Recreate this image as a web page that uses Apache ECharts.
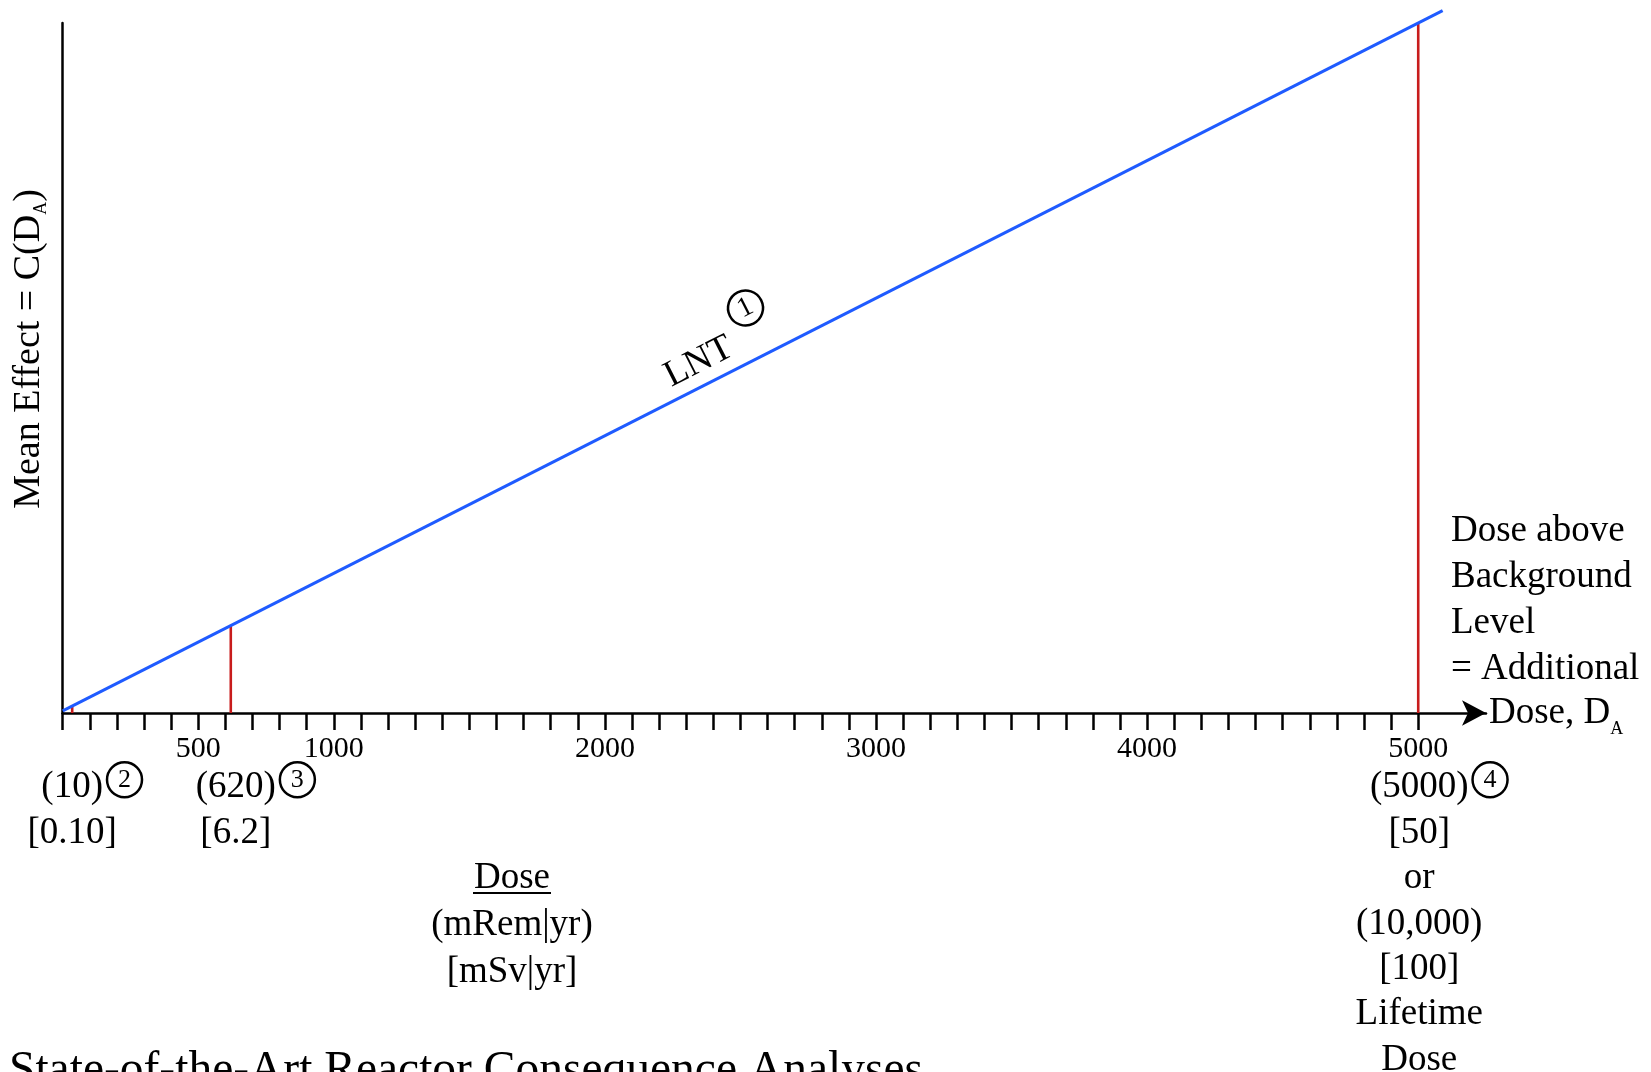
<!DOCTYPE html>
<html>
<head>
<meta charset="utf-8">
<title>LNT dose response</title>
<script src="https://cdn.jsdelivr.net/npm/echarts@6.0.0/dist/echarts.min.js"></script>
<style>
html,body{margin:0;padding:0;background:#fff;}
#chart{width:1651px;height:1072px;}
</style>
</head>
<body>
<div id="chart"></div>
<script>
const FONT = '"Liberation Serif", "DejaVu Serif", serif';

// LNT line: dose (mRem/yr) against effect (arbitrary units)
const lntDose = [0, 5090];
const lntEffect = [0.3, 101.8];

// red marker lines at the doses of interest
const markerDose = [35, 620, 5000];
const markerEffect = [1.0, 12.7, 100];

// x axis
const xMax = 5250;
const tickValues = [];
for (let v = 0; v <= 5000; v += 100) tickValues.push(v);
const tickLabels = [500, 1000, 2000, 3000, 4000, 5000];

// texts under the markers
const markerNotes = [
    ['(10)', '[0.10]'],
    ['(620)', '[6.2]'],
    ['(5000)', '[50]', 'or', '(10,000)', '[100]', 'Lifetime', 'Dose']
];
const markerCircles = ['2', '3', '4'];
const markerShift = [0, 5, 1];

// where the LNT text sits on the line
const lntLabelAt = [2385, 47.9];

const circleSize = 35;
const labelValues = tickLabels.concat(markerDose.filter(d => tickLabels.indexOf(d) < 0)).sort((a, b) => a - b);

const labelRich = {
    n: {fontFamily: FONT, fontSize: 30, lineHeight: 16, color: '#000'},
    t: {fontFamily: FONT, fontSize: 37, lineHeight: 45.4, padding: [16, 0, 0, 0], color: '#000'},
    g: {width: 4, height: 10},
    c: {
        fontFamily: FONT, fontSize: 26, color: '#000',
        width: circleSize, height: circleSize, borderRadius: circleSize / 2,
        borderColor: '#000', borderWidth: 2.5, align: 'center'
    }
};
markerDose.forEach((d, i) => {
    labelRich['lp' + i] = {width: 4 + circleSize + 2 * markerShift[i], height: 10};
    labelRich['lq' + i] = {width: 2 * markerShift[i], height: 10};
});

function labelFormatter(value) {
    const i = markerDose.indexOf(value);
    const top = tickLabels.indexOf(value) >= 0 ? '{n|' + value + '}' : '{n| }';
    if (i < 0) return top;
    const notes = markerNotes[i];
    const lines = [top, '{lp' + i + '|}{t|' + notes[0] + '}{g|}{c|' + markerCircles[i] + '}'];
    for (let k = 1; k < notes.length; k++) {
        lines.push('{lq' + i + '|}{t|' + notes[k] + '}');
    }
    return lines.join('\n');
}

const series = markerDose.map((d, i) => ({
    type: 'line',
    data: [[d, 0], [d, markerEffect[i]]],
    symbol: 'none',
    lineStyle: {color: '#c81c1c', width: 2.6},
    silent: true
}));
series.push({
    type: 'line',
    data: lntDose.map((d, i) => [d, lntEffect[i]]),
    symbol: 'none',
    clip: false,
    lineStyle: {color: '#1f5bff', width: 3},
    z: 5
});

const chart = echarts.init(document.getElementById('chart'));
chart.setOption({
    animation: false,
    backgroundColor: '#fff',
    title: {
        text: 'State-of-the-Art Reactor Consequence Analyses',
        left: 4,
        top: 1043,
        textStyle: {fontFamily: FONT, fontSize: 47.5, fontWeight: 'normal', color: '#000'}
    },
    grid: {left: 62.7, right: 165, top: 23, bottom: 359, containLabel: false, outerBoundsMode: 'none'},
    xAxis: {
        type: 'value',
        min: 0,
        max: xMax,
        name: '{t|Dose, D}{s|A}',
        nameLocation: 'end',
        nameGap: 3,
        nameMoveOverlap: false,
        nameTextStyle: {
            rich: {
                t: {fontFamily: FONT, fontSize: 37, color: '#000'},
                s: {fontFamily: FONT, fontSize: 18, lineHeight: 18, padding: [32, 0, 0, 0], color: '#000'}
            }
        },
        axisLine: {
            show: true,
            symbol: ['none', 'arrow'],
            symbolSize: [19, 24],
            lineStyle: {color: '#000', width: 2.5}
        },
        axisTick: {
            show: true,
            customValues: tickValues,
            length: 17,
            lineStyle: {color: '#000', width: 2.5}
        },
        axisLabel: {
            customValues: labelValues,
            margin: 28,
            color: '#000',
            showMinLabel: true,
            showMaxLabel: true,
            formatter: labelFormatter,
            rich: labelRich
        },
        splitLine: {show: false}
    },
    yAxis: {
        type: 'value',
        min: 0,
        max: 100,
        axisLine: {show: true, lineStyle: {color: '#000', width: 2.5}},
        axisTick: {show: false},
        axisLabel: {show: false},
        splitLine: {show: false}
    },
    series: series
});

// annotations placed from the chart's own scales
const p0 = chart.convertToPixel({gridIndex: 0}, [lntDose[0], lntEffect[0]]);
const p1 = chart.convertToPixel({gridIndex: 0}, [lntDose[1], lntEffect[1]]);
const angle = Math.atan2(p0[1] - p1[1], p1[0] - p0[0]);
const lntAt = chart.convertToPixel({gridIndex: 0}, lntLabelAt);

const textStyle = {fontFamily: FONT, fontSize: 37, fill: '#000'};

chart.setOption({
    graphic: [
        {
            type: 'group',
            x: lntAt[0],
            y: lntAt[1],
            rotation: angle,
            children: [
                {type: 'text', x: 0, y: -23, style: Object.assign({text: 'LNT', align: 'center', verticalAlign: 'middle'}, textStyle)},
                {type: 'circle', shape: {cx: 66, cy: -50, r: circleSize / 2}, style: {fill: 'none', stroke: '#000', lineWidth: 2.5}},
                {type: 'text', x: 66, y: -50, style: {text: '1', fontFamily: FONT, fontSize: 28, fill: '#000', align: 'center', verticalAlign: 'middle'}}
            ]
        },
        {
            type: 'text',
            x: 29.5,
            y: 349,
            rotation: Math.PI / 2,
            style: {
                text: '{t|Mean Effect = C(D}{s|A}{t|)}',
                align: 'center',
                verticalAlign: 'middle',
                rich: {
                    t: {fontFamily: FONT, fontSize: 38, fill: '#000'},
                    s: {fontFamily: FONT, fontSize: 18, lineHeight: 18, padding: [24, 0, 0, 0], fill: '#000'}
                }
            }
        },
        {
            type: 'text',
            x: 1451,
            y: 508,
            style: Object.assign({text: 'Dose above\nBackground\nLevel\n= Additional', lineHeight: 46, align: 'left', verticalAlign: 'top'}, textStyle)
        },
        {
            type: 'text',
            x: 512,
            y: 855,
            style: Object.assign({text: 'Dose\n(mRem|yr)\n[mSv|yr]', lineHeight: 47, align: 'center', verticalAlign: 'top'}, textStyle)
        },
        {
            type: 'line',
            shape: {x1: 473, y1: 893, x2: 551, y2: 893},
            style: {stroke: '#000', lineWidth: 2}
        }
    ]
});
</script>
</body>
</html>
